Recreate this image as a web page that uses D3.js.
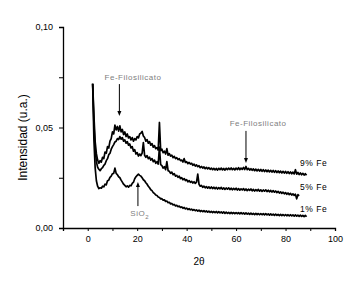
<!DOCTYPE html>
<html><head><meta charset="utf-8">
<script src="https://cdn.jsdelivr.net/npm/d3@7"></script>
<style>body{margin:0;background:#fff}svg{display:block}text{font-family:"Liberation Sans",Arial,sans-serif}</style>
</head><body><div id="chart"></div>
<script>
// ---- data ----
const twoTheta = [2,2.5,3,3.5,4,4.5,5,5.5,6,6.5,7,7.5,8,8.5,9,9.5,10,10.5,11,11.5,12,12.5,13,13.5,14,14.5,15,15.5,16,16.5,17,17.5,18,18.5,19,19.5,20,20.5,21,21.5,22,22.5,23,23.5,24,24.5,25,25.5,26,26.5,27,27.5,28,28.5,29,29.5,30,30.5,31,31.5,32,32.5,33,33.5,34,34.5,35,35.5,36,36.5,37,37.5,38,38.5,39,39.5,40,40.5,41,41.5,42,42.5,43,43.5,44,44.5,45,45.5,46,46.5,47,47.5,48,48.5,49,49.5,50,50.5,51,51.5,52,52.5,53,53.5,54,54.5,55,55.5,56,56.5,57,57.5,58,58.5,59,59.5,60,60.5,61,61.5,62,62.5,63,63.5,64,64.5,65,65.5,66,66.5,67,67.5,68,68.5,69,69.5,70,70.5,71,71.5,72,72.5,73,73.5,74,74.5,75,75.5,76,76.5,77,77.5,78,78.5,79,79.5,80,80.5,81,81.5,82,82.5,83,83.5,84,84.5,85,85.5,86,86.5,87,87.5,88,88.5];

const fe9 = [0.0718,0.0560,0.0430,0.0370,0.0338,0.0322,0.0335,0.0328,0.0352,0.0345,0.0378,0.0372,0.0405,0.0398,0.0432,0.0445,0.0478,0.0468,0.0512,0.0488,0.0505,0.0482,0.0508,0.0478,0.0490,0.0465,0.0478,0.0455,0.0468,0.0448,0.0455,0.0438,0.0450,0.0432,0.0445,0.0438,0.0455,0.0448,0.0468,0.0472,0.0480,0.0458,0.0450,0.0432,0.0440,0.0422,0.0430,0.0412,0.0420,0.0402,0.0410,0.0395,0.0400,0.0388,0.0525,0.0385,0.0392,0.0375,0.0382,0.0368,0.0395,0.0362,0.0370,0.0358,0.0362,0.0350,0.0356,0.0345,0.0350,0.0340,0.0345,0.0335,0.0338,0.0328,0.0345,0.0326,0.0330,0.0320,0.0326,0.0318,0.0322,0.0312,0.0318,0.0308,0.0314,0.0305,0.0310,0.0300,0.0306,0.0298,0.0304,0.0295,0.0302,0.0294,0.0300,0.0292,0.0298,0.0290,0.0297,0.0289,0.0296,0.0288,0.0297,0.0290,0.0298,0.0289,0.0296,0.0288,0.0297,0.0290,0.0298,0.0291,0.0299,0.0290,0.0297,0.0289,0.0298,0.0291,0.0300,0.0290,0.0298,0.0292,0.0301,0.0291,0.0306,0.0290,0.0297,0.0288,0.0295,0.0287,0.0294,0.0285,0.0293,0.0284,0.0292,0.0283,0.0291,0.0282,0.0290,0.0281,0.0289,0.0280,0.0288,0.0279,0.0287,0.0278,0.0286,0.0277,0.0285,0.0276,0.0284,0.0275,0.0283,0.0274,0.0282,0.0273,0.0281,0.0272,0.0280,0.0271,0.0279,0.0270,0.0278,0.0269,0.0290,0.0268,0.0276,0.0266,0.0274,0.0265,0.0272,0.0263,0.0270,0.0262];

const fe5 = [0.0718,0.0520,0.0390,0.0330,0.0302,0.0292,0.0285,0.0295,0.0300,0.0312,0.0318,0.0335,0.0345,0.0365,0.0372,0.0392,0.0405,0.0415,0.0428,0.0432,0.0445,0.0440,0.0455,0.0442,0.0450,0.0432,0.0438,0.0422,0.0430,0.0412,0.0418,0.0398,0.0405,0.0382,0.0390,0.0368,0.0375,0.0358,0.0368,0.0360,0.0372,0.0425,0.0362,0.0352,0.0360,0.0345,0.0352,0.0338,0.0345,0.0330,0.0338,0.0322,0.0330,0.0318,0.0402,0.0315,0.0310,0.0298,0.0305,0.0290,0.0330,0.0285,0.0282,0.0272,0.0278,0.0265,0.0270,0.0258,0.0262,0.0252,0.0258,0.0246,0.0250,0.0240,0.0246,0.0236,0.0240,0.0230,0.0236,0.0227,0.0232,0.0224,0.0230,0.0222,0.0228,0.0268,0.0218,0.0208,0.0212,0.0202,0.0208,0.0200,0.0206,0.0198,0.0205,0.0197,0.0204,0.0196,0.0203,0.0195,0.0202,0.0194,0.0201,0.0195,0.0202,0.0193,0.0200,0.0192,0.0199,0.0193,0.0200,0.0191,0.0198,0.0190,0.0197,0.0191,0.0198,0.0189,0.0196,0.0188,0.0195,0.0189,0.0196,0.0187,0.0194,0.0186,0.0193,0.0187,0.0194,0.0185,0.0192,0.0184,0.0191,0.0185,0.0192,0.0183,0.0190,0.0182,0.0189,0.0183,0.0190,0.0181,0.0188,0.0180,0.0187,0.0179,0.0186,0.0178,0.0184,0.0176,0.0182,0.0174,0.0180,0.0172,0.0178,0.0170,0.0176,0.0168,0.0174,0.0166,0.0172,0.0164,0.0170,0.0162,0.0168,0.0145,0.0166,0.0160,null,null,null,null,null,null];

const fe1 = [0.0718,0.0440,0.0300,0.0235,0.0208,0.0196,0.0200,0.0198,0.0208,0.0205,0.0218,0.0215,0.0235,0.0238,0.0252,0.0258,0.0270,0.0272,0.0298,0.0272,0.0265,0.0255,0.0250,0.0238,0.0228,0.0218,0.0212,0.0205,0.0210,0.0203,0.0212,0.0210,0.0222,0.0228,0.0245,0.0255,0.0262,0.0268,0.0262,0.0258,0.0250,0.0240,0.0235,0.0225,0.0218,0.0208,0.0200,0.0190,0.0186,0.0176,0.0172,0.0164,0.0162,0.0154,0.0152,0.0145,0.0146,0.0138,0.0140,0.0132,0.0134,0.0126,0.0128,0.0120,0.0122,0.0115,0.0117,0.0110,0.0113,0.0106,0.0109,0.0102,0.0105,0.0098,0.0102,0.0095,0.0099,0.0092,0.0096,0.0090,0.0094,0.0088,0.0092,0.0086,0.0090,0.0084,0.0089,0.0082,0.0087,0.0081,0.0086,0.0080,0.0085,0.0079,0.0084,0.0078,0.0083,0.0077,0.0082,0.0076,0.0082,0.0075,0.0081,0.0075,0.0080,0.0074,0.0080,0.0073,0.0079,0.0073,0.0078,0.0072,0.0078,0.0072,0.0077,0.0071,0.0077,0.0071,0.0076,0.0070,0.0076,0.0070,0.0075,0.0069,0.0075,0.0069,0.0074,0.0068,0.0074,0.0068,0.0073,0.0067,0.0073,0.0067,0.0072,0.0066,0.0072,0.0066,0.0071,0.0065,0.0071,0.0065,0.0070,0.0064,0.0070,0.0064,0.0069,0.0063,0.0069,0.0063,0.0068,0.0062,0.0068,0.0062,0.0067,0.0061,0.0067,0.0061,0.0066,0.0060,0.0066,0.0060,0.0065,0.0059,0.0065,0.0059,0.0064,0.0058,0.0064,0.0058,0.0063,0.0057,0.0063,0.0056];

const seriesNames = ["9% Fe", "5% Fe", "1% Fe"];
const seriesValues = [fe9, fe5, fe1];
const seriesLabelPos = [[85.8, 0.0323], [85.8, 0.0204], [85.8, 0.0095]];

const xTicks = [-10,0,10,20,30,40,50,60,70,80,90,100];
const xTickLabels = [0,20,40,60,80,100];
const yTicks = [0,0.025,0.05,0.075,0.1];
const yTickLabels = [0,0.05,0.1];

// annotations: label text, label position, arrow x, arrow from/to intensities
const annotations = [
  {text:"Fe-Filosilicato", lx:18.3, ly:0.0751, ax:12.8, y1:0.0716, y2:0.0557},
  {text:"Fe-Filosilicato", lx:68.9, ly:0.0522, ax:64.0, y1:0.0483, y2:0.0323},
  {text:"SiO", sub:"2", lx:21.0, ly:0.0075, ax:20.3, y1:0.0109, y2:0.0229}
];

// ---- chart ----
const W = 363, H = 284;
const svg = d3.select("#chart").append("svg").attr("width", W).attr("height", H);
const x = d3.scaleLinear().domain([-10, 100]).range([63, 335]);
const y = d3.scaleLinear().domain([0, 0.1]).range([228, 27]);
const loc = d3.formatLocale({decimal: ",", thousands: ".", grouping: [3], currency: ["", ""]});
const fy = loc.format(".2f");

// x axis
const gx = svg.append("g").attr("transform", `translate(0,${y(0)})`)
  .call(d3.axisBottom(x).tickValues(xTicks).tickSize(3).tickPadding(5)
        .tickFormat(d => xTickLabels.includes(d) ? d : ""));
// y axis
const gy = svg.append("g").attr("transform", `translate(${x(-10)},0)`)
  .call(d3.axisLeft(y).tickValues(yTicks).tickSize(4).tickPadding(6)
        .tickFormat(d => yTickLabels.includes(d) ? fy(d) : ""));
[gx, gy].forEach(g => {
  g.select(".domain").attr("stroke", "#000").attr("stroke-width", 1.3);
  g.selectAll(".tick line").attr("stroke", "#000");
  g.selectAll("text").attr("fill", "#000").style("font-size", "9px");
});

svg.append("text").attr("x", x(45)).attr("y", 265).attr("text-anchor", "middle")
  .style("font-size", "10px").text("2θ");
svg.append("text").attr("transform", `translate(27,${(y(0)+y(0.1))/2 + 10}) rotate(-90)`)
  .attr("text-anchor", "middle").style("font-size", "12px").text("Intensidad (u.a.)");

// lines
const line = d3.line().defined(d => d[1] !== null)
  .x(d => x(d[0])).y(d => y(d[1]));
seriesValues.forEach((vals, i) => {
  svg.append("path").datum(twoTheta.map((t, j) => [t, vals[j]]))
    .attr("fill", "none").attr("stroke", "#000").attr("stroke-width", 1.7)
    .attr("stroke-linejoin", "round").attr("d", line);
  svg.append("text").attr("x", x(seriesLabelPos[i][0])).attr("y", y(seriesLabelPos[i][1]))
    .attr("dy", "0.35em").style("font-size", "8.5px").style("letter-spacing", "0.6px")
    .text(seriesNames[i]);
});

// annotations
annotations.forEach(a => {
  const t = svg.append("text").attr("x", x(a.lx)).attr("y", y(a.ly)).attr("dy", "0.35em")
    .attr("text-anchor", "middle").attr("fill", "#808080")
    .style("font-size", "8px").style("letter-spacing", "0.5px").text(a.text);
  if (a.sub) t.append("tspan").attr("dy", "3").style("font-size", "6px").text(a.sub);
  const xa = x(a.ax), ya1 = y(a.y1), ya2 = y(a.y2);
  const dir = ya2 > ya1 ? 1 : -1;
  svg.append("line").attr("x1", xa).attr("x2", xa).attr("y1", ya1).attr("y2", ya2 - dir*3)
    .attr("stroke", "#000").attr("stroke-width", 1);
  svg.append("path").attr("d", `M${xa-2},${ya2-dir*5}L${xa+2},${ya2-dir*5}L${xa},${ya2}Z`)
    .attr("fill", "#000");
});
</script></body></html>
